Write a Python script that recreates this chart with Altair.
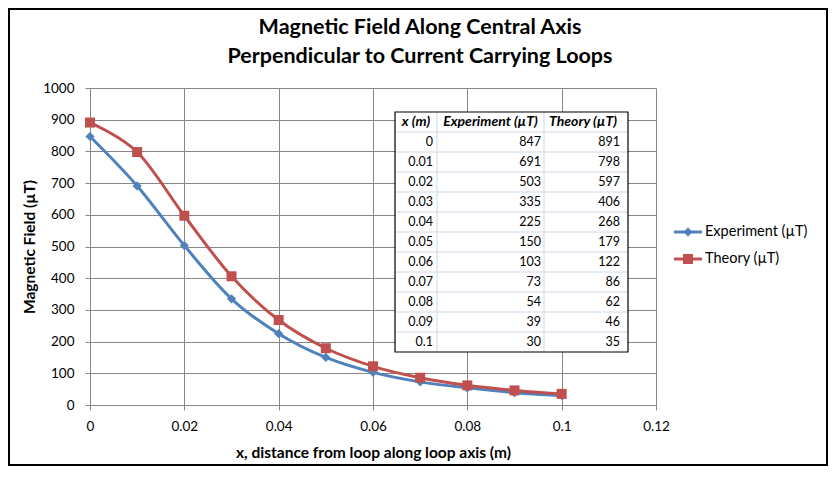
import altair as alt
import pandas as pd

# ---------------- data ----------------
x_m = [0, 0.01, 0.02, 0.03, 0.04, 0.05, 0.06, 0.07, 0.08, 0.09, 0.1]
experiment = [847, 691, 503, 335, 225, 150, 103, 73, 54, 39, 30]
theory = [891, 798, 597, 406, 268, 179, 122, 86, 62, 46, 35]
series_names = ["Experiment (µT)", "Theory (µT)"]
series_colors = ["#4F81BD", "#C0504D"]
series_shapes = ["diamond", "square"]
table_headers = ["x (m)", "Experiment (µT)", "Theory (µT)"]
x_ticks = [0, 0.02, 0.04, 0.06, 0.08, 0.1, 0.12]
y_ticks = [0, 100, 200, 300, 400, 500, 600, 700, 800, 900, 1000]
title_lines = ["Magnetic Field Along Central Axis", "Perpendicular to Current Carrying Loops"]
x_title = "x, distance from loop along loop axis (m)"
y_title = "Magnetic Field (µT)"

# ---------------- layout ----------------
W, H = 566, 317
X_MAX, Y_MAX = 0.12, 1000
FONT = "Lato"
GRID = "#868686"
PAD_L, PAD_T = 82, 80
PAD_R, PAD_B = 820 - PAD_L - W, 458 - PAD_T - H


def dx(px):
    return px / W * X_MAX


def dy(py):
    return (H - py) / H * Y_MAX


long_df = pd.DataFrame(
    [{"x": xv, "value": v, "series": series_names[0]} for xv, v in zip(x_m, experiment)]
    + [{"x": xv, "value": v, "series": series_names[1]} for xv, v in zip(x_m, theory)]
)

xscale = alt.Scale(domain=[0, X_MAX], nice=False, zero=False)
yscale = alt.Scale(domain=[0, Y_MAX], nice=False, zero=False)
cscale = alt.Scale(domain=series_names, range=series_colors)
sscale = alt.Scale(domain=series_names, range=series_shapes)
zscale = alt.Scale(domain=series_names, range=[85, 100])

x_axis = alt.Axis(
    values=x_ticks, labelExpr="format(datum.value, '~g')", grid=True, gridColor=GRID,
    domainColor=GRID, tickColor=GRID, tickSize=5, labelFont=FONT, labelFontSize=13.5,
    labelColor="black", labelPadding=9, labelFlush=False, title=x_title, titleFont=FONT,
    titleFontSize=15.5, titleFontWeight="bold", titleColor="black", titlePadding=13,
)
y_axis = alt.Axis(
    values=y_ticks, format="d", grid=True, gridColor=GRID, domainColor=GRID, tickColor=GRID,
    tickSize=5, labelFont=FONT, labelFontSize=13.5, labelColor="black", labelPadding=11,
    labelFlush=False, title=y_title, titleFont=FONT, titleFontSize=15.5,
    titleFontWeight="bold", titleColor="black", titlePadding=5,
)


def X(field):
    return alt.X(field, scale=xscale, axis=x_axis)


def Y(field):
    return alt.Y(field, scale=yscale, axis=y_axis)


lines = alt.Chart(long_df).mark_line(interpolate="cardinal", strokeWidth=3).encode(
    x=X("x:Q"),
    y=Y("value:Q"),
    color=alt.Color("series:N", scale=cscale, legend=None),
    detail="series:N",
)
points = alt.Chart(long_df).mark_point(filled=True, opacity=1).encode(
    x=X("x:Q"),
    y=Y("value:Q"),
    color=alt.Color("series:N", scale=cscale, legend=None),
    shape=alt.Shape("series:N", scale=sscale, legend=None),
    size=alt.Size("series:N", scale=zscale, legend=None),
)

# ---------------- data table overlay ----------------
T_LEFT, T_C1, T_C2, T_RIGHT = 305, 347, 454, 538
T_TOP, T_HEAD, ROW_H = 24, 44, 20
T_BOTTOM = T_HEAD + ROW_H * len(x_m)

box_df = pd.DataFrame([{"x": dx(T_LEFT), "x2": dx(T_RIGHT), "value": dy(T_TOP), "y2": dy(T_BOTTOM)}])
tbl_bg = alt.Chart(box_df).mark_rect(fill="white").encode(
    x=X("x:Q"), x2="x2:Q", y=Y("value:Q"), y2="y2:Q",
)
tbl_border = alt.Chart(box_df).mark_rect(fillOpacity=0, stroke="black", strokeWidth=1.2).encode(
    x=X("x:Q"), x2="x2:Q", y=Y("value:Q"), y2="y2:Q",
)

hlines = pd.DataFrame([
    {"value": dy(T_HEAD + ROW_H * k), "x": dx(T_LEFT), "x2": dx(T_RIGHT)} for k in range(len(x_m))
])
vlines = pd.DataFrame([
    {"x": dx(px), "value": dy(T_TOP), "y2": dy(T_BOTTOM)} for px in (T_C1, T_C2)
])
tbl_h = alt.Chart(hlines).mark_rule(color="#D0D7E5", strokeWidth=1).encode(
    x=X("x:Q"), x2="x2:Q", y=Y("value:Q"),
)
tbl_v = alt.Chart(vlines).mark_rule(color="#D0D7E5", strokeWidth=1).encode(
    x=X("x:Q"), y=Y("value:Q"), y2="y2:Q",
)

head_centers = [(T_LEFT + T_C1) / 2, (T_C1 + T_C2) / 2, (T_C2 + T_RIGHT) / 2 - 3]
head_df = pd.DataFrame([
    {"x": dx(cx), "value": dy((T_TOP + T_HEAD) / 2), "t": h} for cx, h in zip(head_centers, table_headers)
])
tbl_head = alt.Chart(head_df).mark_text(
    font=FONT, fontSize=14, fontWeight="bold", fontStyle="italic", color="black",
    align="center", baseline="middle",
).encode(x=X("x:Q"), y=Y("value:Q"), text="t:N")

col_right = [T_C1 - 4, T_C2 - 3, T_RIGHT - 8]
cell_rows = []
for i, (xv, e, t) in enumerate(zip(x_m, experiment, theory)):
    cy = dy(T_HEAD + ROW_H * i + ROW_H / 2)
    for cx, txt in zip(col_right, [f"{xv:g}", str(e), str(t)]):
        cell_rows.append({"x": dx(cx), "value": cy, "t": txt})
cell_df = pd.DataFrame(cell_rows)
tbl_cells = alt.Chart(cell_df).mark_text(
    font=FONT, fontSize=12.5, color="black", align="right", baseline="middle",
).encode(x=X("x:Q"), y=Y("value:Q"), text="t:N")

# ---------------- manual legend ----------------
leg_layers = []
for i, (name, col, shp) in enumerate(zip(series_names, series_colors, series_shapes)):
    ly = 144 + 27 * i
    src = alt.Chart(pd.DataFrame([{"s": name}]))
    leg_layers.append(src.mark_rule(color=col, strokeWidth=3).encode(
        x=alt.value(584), x2=alt.value(612), y=alt.value(ly)))
    leg_layers.append(src.mark_point(shape=shp, filled=True, color=col, opacity=1,
                                     size=85 if shp == "diamond" else 100).encode(
        x=alt.value(598), y=alt.value(ly)))
    leg_layers.append(src.mark_text(font=FONT, fontSize=14.5, color="black", align="left",
                                    baseline="middle").encode(
        x=alt.value(615), y=alt.value(ly), text="s:N"))

# ---------------- title (as text marks) ----------------
title_layers = []
for i, line in enumerate(title_lines):
    title_layers.append(
        alt.Chart(pd.DataFrame([{"t": line}])).mark_text(
            font=FONT, fontSize=21.5, fontWeight="bold", color="black",
            align="center", baseline="middle",
        ).encode(x=alt.value(330), y=alt.value(-60 + 29 * i), text="t:N")
    )

# ---------------- outer frame ----------------
frame = alt.Chart(pd.DataFrame([{"s": "frame"}])).mark_rect(
    fillOpacity=0, stroke="black", strokeWidth=2
).encode(
    x=alt.value(-PAD_L + 1), x2=alt.value(W + PAD_R - 1),
    y=alt.value(-PAD_T + 1), y2=alt.value(H + PAD_B - 1),
)

chart = alt.layer(
    lines, points, tbl_bg, tbl_h, tbl_v, tbl_border, tbl_head, tbl_cells,
    *leg_layers, *title_layers, frame
).properties(
    width=W, height=H,
    autosize=alt.AutoSizeParams(type="none"),
    padding={"left": PAD_L, "top": PAD_T, "right": PAD_R, "bottom": PAD_B},
    background="white",
).configure_view(strokeWidth=0)

chart.save("out.html", embed_options={"renderer": "svg", "actions": False})
